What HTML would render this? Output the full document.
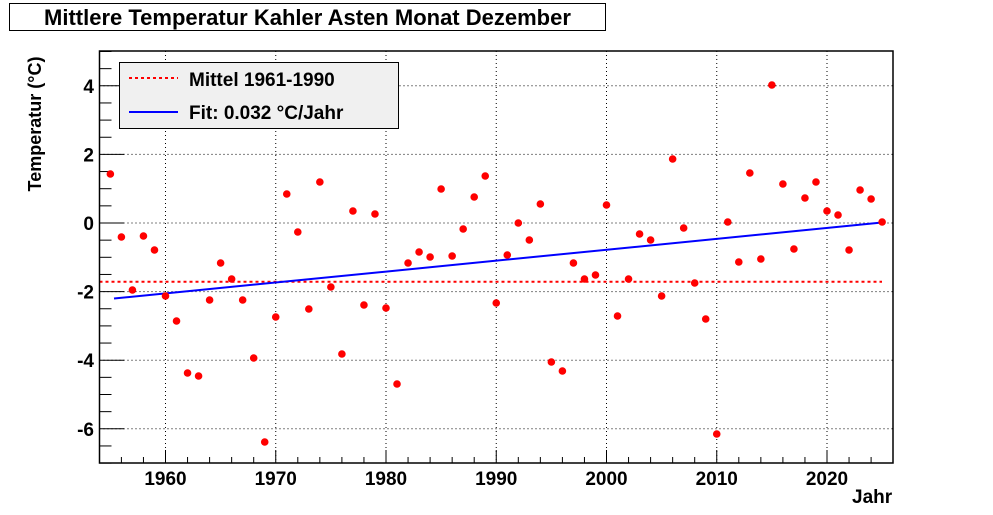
<!DOCTYPE html>
<html><head><meta charset="utf-8"><style>
html,body{margin:0;padding:0;background:#fff}
svg{display:block}
text{font-family:"Liberation Sans",Arial,sans-serif;font-weight:bold;fill:#000}
</style></head><body>
<svg id="s" width="993" height="515" viewBox="0 0 993 515" xmlns="http://www.w3.org/2000/svg">
<rect x="0" y="0" width="993" height="515" fill="#fff"/>
<g id="grid" stroke="#000" stroke-width="1" stroke-dasharray="1,3" fill="none"></g>
<g id="ticks" stroke="#000" stroke-width="1" fill="none"></g>
<line x1="99.5" y1="281.7" x2="882" y2="281.7" stroke="#f00" stroke-width="2" stroke-dasharray="3,3"/>
<line x1="114" y1="298.5" x2="882" y2="222.5" stroke="#00f" stroke-width="2"/>
<g id="pts" fill="#f00"></g>
<rect x="99.5" y="51" width="793.5" height="412" fill="none" stroke="#000" stroke-width="1.5"/>
<g id="lab" font-size="19"></g>
<text x="852" y="503" font-size="19">Jahr</text>
<text transform="translate(41,124) rotate(-90)" text-anchor="middle" font-size="18">Temperatur (°C)</text>
<rect x="9.5" y="3.5" width="596" height="27" fill="#fff" stroke="#000" stroke-width="1"/>
<text x="44" y="25" font-size="22">Mittlere Temperatur Kahler Asten Monat Dezember</text>
<rect x="119.5" y="62.5" width="279" height="66" fill="#f0f0f0" stroke="#000" stroke-width="1"/>
<line x1="129" y1="78" x2="178" y2="78" stroke="#f00" stroke-width="2" stroke-dasharray="3,3"/>
<line x1="129" y1="112" x2="178" y2="112" stroke="#00f" stroke-width="2"/>
<text x="189" y="86" font-size="19">Mittel 1961-1990</text>
<text x="189" y="119" font-size="19">Fit: 0.032 °C/Jahr</text>
</svg>
<script>
var NS="http://www.w3.org/2000/svg";
function X(y){return 165.5+(y-1960)*11.025;}
function Y(v){return 223-v*34.3;}
function el(p,t,a){var e=document.createElementNS(NS,t);for(var k in a)e.setAttribute(k,a[k]);document.getElementById(p).appendChild(e);return e;}
for(var yr=1960;yr<=2020;yr+=10){el("grid","line",{x1:X(yr),y1:51,x2:X(yr),y2:463});
 var t=el("lab","text",{x:X(yr),y:485,"text-anchor":"middle"});t.textContent=yr;}
for(var v=-6;v<=4;v+=2){el("grid","line",{x1:99.5,y1:Y(v),x2:893,y2:Y(v)});
 var t=el("lab","text",{x:94,y:Y(v)+7,"text-anchor":"end"});t.textContent=v;}
for(var yr=1956;yr<=2024;yr+=2){var L=(yr%10==0)?13:6;el("ticks","line",{x1:X(yr),y1:463,x2:X(yr),y2:463-L});}
for(var v=-7;v<=5;v+=0.5){var L=(Math.abs(v%2)<1e-9)?25:12;el("ticks","line",{x1:99.5,y1:Y(v),x2:99.5+L,y2:Y(v)});}
var py=[174,237,290,236,250,296,321,373,376,300,263,279,300,358,442,317,194,232,309,182,287,354,211,305,214,308,384,263,252,257,189,256,229,197,176,303,255,223,240,204,362,371,263,279,275,205,316,279,234,240,296,159,228,283,319,434,222,262,173,259,85,184,249,198,182,211,215,250,190,199,222];
for(var i=0;i<py.length;i++){el("pts","circle",{cx:X(1955+i),cy:py[i],r:3.8});}
</script>
</body></html>
